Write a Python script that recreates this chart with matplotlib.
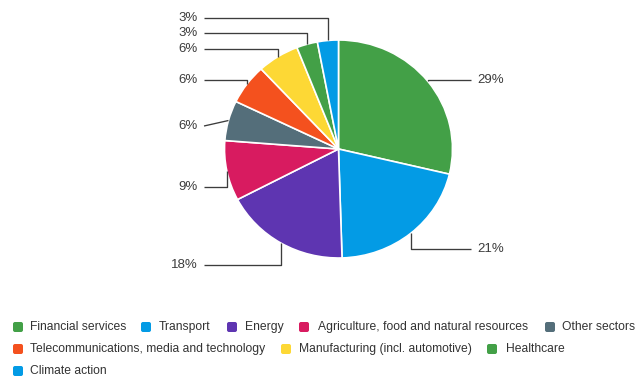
import matplotlib
matplotlib.use("Agg")
import matplotlib.pyplot as plt
import numpy as np
from matplotlib.patches import FancyBboxPatch
from matplotlib.transforms import Affine2D

plt.rcParams["font.family"] = ["Liberation Sans", "DejaVu Sans"]

# sector breakdown, clockwise from 12 o'clock
sectors = ["Financial services", "Transport", "Energy",
           "Agriculture, food and natural resources", "Other sectors",
           "Telecommunications, media and technology",
           "Manufacturing (incl. automotive)", "Healthcare", "Climate action"]
shares = [29, 21, 18, 9, 6, 6, 6, 3, 3]
colors = ["#43a047", "#039be5", "#5e35b1", "#d81b60", "#546e7a",
          "#f4511e", "#fdd835", "#43a047", "#039be5"]
pct_labels = [f"{v}%" for v in shares]

W, H = 635, 376
CX, CY = 338.5, H - 149          # pie centre in pixel units (y up)
RX, RY = 114, 109

# label rows (pixels from top) and which side they sit on
label_rows = [80, 249, 265, 187, 126, 80, 49, 33, 18]
label_side = ["r", "r", "l", "l", "l", "l", "l", "l", "l"]
straight = [False, False, False, False, True, False, False, False, False]

# legend layout: (row y from top, marker x, text x)
legend_slots = [(327, 18, 30), (327, 146, 159), (327, 232, 245), (327, 304, 318),
                (327, 550, 562), (349, 18, 30), (349, 286, 299), (349, 492, 506),
                (371, 18, 30)]

fig = plt.figure(figsize=(W / 100, H / 100), dpi=100)
ax = fig.add_axes([0, 0, 1, 1])

wedges, _ = ax.pie(shares, colors=colors, startangle=90, counterclock=False,
                   center=(CX, CY), radius=RX, frame=True,
                   wedgeprops=dict(edgecolor="white", linewidth=1.2))
squash = Affine2D().translate(-CX, -CY).scale(1, RY / RX).translate(CX, CY)
for w in wedges:
    w.set_transform(squash + ax.transData)

ax.set_xlim(0, W)
ax.set_ylim(0, H)
ax.set_aspect("auto")
ax.axis("off")

# leader lines + percentage labels
for w, txt, row, side, diag in zip(wedges, pct_labels, label_rows, label_side, straight):
    mid = np.deg2rad((w.theta1 + w.theta2) / 2)
    ax_x = CX + RX * np.cos(mid)
    ax_y = CY + RY * np.sin(mid)
    ly = H - row
    end_x = 471 if side == "r" else 204
    if diag:
        xs, ys = [ax_x, end_x], [ax_y, ly]
    else:
        xs, ys = [ax_x, ax_x, end_x], [ax_y, ly, ly]
    ax.plot(xs, ys, color="#3c3c3c", lw=0.95, solid_capstyle="butt")
    if side == "r":
        ax.text(477, ly, txt, ha="left", va="center", fontsize=9.5, color="#3c3c3c")
    else:
        ax.text(198, ly, txt, ha="right", va="center", fontsize=9.5, color="#3c3c3c")

# legend
for name, col, (row, mx, tx) in zip(sectors, colors, legend_slots):
    y = H - row
    ax.add_patch(FancyBboxPatch((mx - 4, y - 4), 8, 8,
                                boxstyle="round,pad=1,rounding_size=2",
                                facecolor=col, edgecolor="none"))
    ax.text(tx, y, name, ha="left", va="center", fontsize=8.75, color="#333333")

fig.savefig("out.png", dpi=100)
